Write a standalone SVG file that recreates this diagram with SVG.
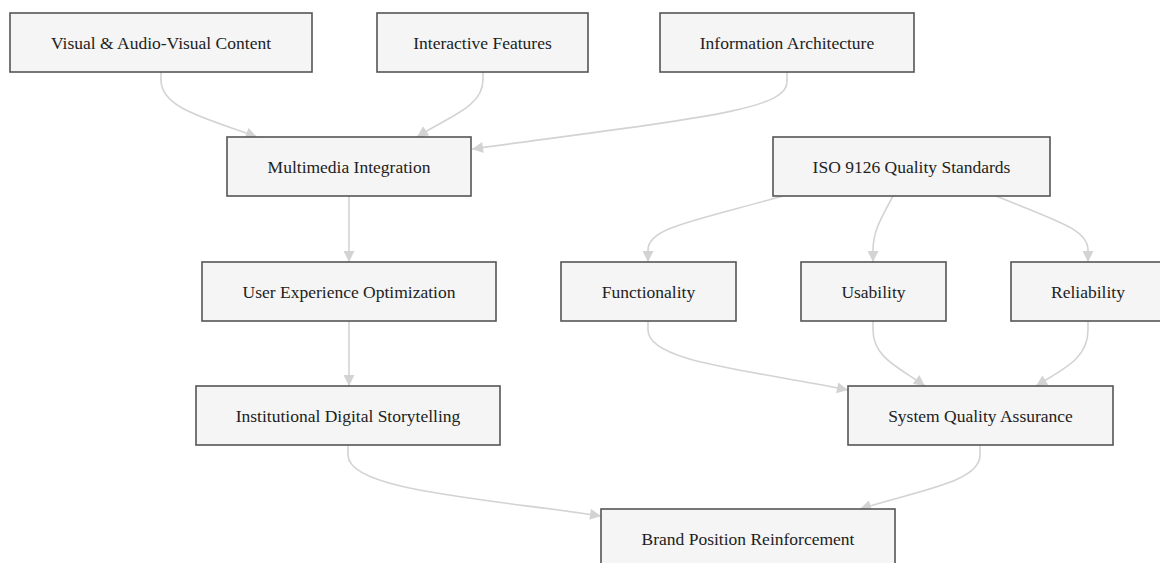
<svg xmlns="http://www.w3.org/2000/svg" width="1160" height="563" viewBox="0 0 1160 563">
<style>
.node rect{fill:#f5f5f5;stroke:#555;stroke-width:1.6}
.node text{font-family:'Liberation Serif','Times New Roman','DejaVu Serif',serif;font-size:17.5px;fill:#222;text-anchor:middle}
.edges path{fill:none;stroke:#d3d3d3;stroke-width:1.6}
</style>
<defs>
<marker id="arrow" viewBox="0 0 10 10" refX="10" refY="5" markerWidth="12" markerHeight="11" markerUnits="userSpaceOnUse" orient="auto"><path d="M0,0 L10,5 L0,10 z" fill="#d3d3d3"/></marker>
</defs>
<rect width="1160" height="563" fill="#ffffff"/>
<g class="edges">
<path marker-end="url(#arrow)" d="M161,72 L161,80 C161,108 205,118 257,137"/>
<path marker-end="url(#arrow)" d="M483,72 L483,80 C483,108 445,118 417,137"/>
<path marker-end="url(#arrow)" d="M787,72 L787,82 C787,110 700,118 472,149"/>
<path marker-end="url(#arrow)" d="M349,196 L349,262"/>
<path marker-end="url(#arrow)" d="M349,321 L349,386"/>
<path marker-end="url(#arrow)" d="M783,196 C690,222 648,228 648,250 L648,262"/>
<path marker-end="url(#arrow)" d="M893,196 C880,220 873,232 873,250 L873,262"/>
<path marker-end="url(#arrow)" d="M996,196 C1060,222 1088,230 1088,250 L1088,262"/>
<path marker-end="url(#arrow)" d="M648,321 L648,330 C648,362 750,370 848,390"/>
<path marker-end="url(#arrow)" d="M873,321 L873,330 C873,358 900,368 925,386"/>
<path marker-end="url(#arrow)" d="M1088,321 L1088,330 C1088,358 1065,368 1036,386"/>
<path marker-end="url(#arrow)" d="M348,445 L348,455 C348,490 480,498 601,516"/>
<path marker-end="url(#arrow)" d="M980,445 L980,455 C980,482 920,490 860,509"/>
</g>
<g id="n-visual" class="node"><rect x="10" y="13" width="302" height="59"/><text x="161" y="48.5">Visual &amp; Audio-Visual Content</text></g>
<g id="n-interactive" class="node"><rect x="377" y="13" width="211" height="59"/><text x="482.5" y="48.5">Interactive Features</text></g>
<g id="n-info" class="node"><rect x="660" y="13" width="254" height="59"/><text x="787" y="48.5">Information Architecture</text></g>
<g id="n-multimedia" class="node"><rect x="227" y="137" width="244" height="59"/><text x="349" y="172.5">Multimedia Integration</text></g>
<g id="n-iso" class="node"><rect x="773" y="137" width="277" height="59"/><text x="911.5" y="172.5">ISO 9126 Quality Standards</text></g>
<g id="n-uxo" class="node"><rect x="202" y="262" width="294" height="59"/><text x="349" y="297.5">User Experience Optimization</text></g>
<g id="n-func" class="node"><rect x="561" y="262" width="175" height="59"/><text x="648.5" y="297.5">Functionality</text></g>
<g id="n-usab" class="node"><rect x="801" y="262" width="145" height="59"/><text x="873.5" y="297.5">Usability</text></g>
<g id="n-rel" class="node"><rect x="1011" y="262" width="154" height="59"/><text x="1088" y="297.5">Reliability</text></g>
<g id="n-story" class="node"><rect x="196" y="386" width="304" height="59"/><text x="348" y="421.5">Institutional Digital Storytelling</text></g>
<g id="n-sqa" class="node"><rect x="848" y="386" width="265" height="59"/><text x="980.5" y="421.5">System Quality Assurance</text></g>
<g id="n-brand" class="node"><rect x="601" y="509" width="294" height="59"/><text x="748" y="544.5">Brand Position Reinforcement</text></g>
</svg>
